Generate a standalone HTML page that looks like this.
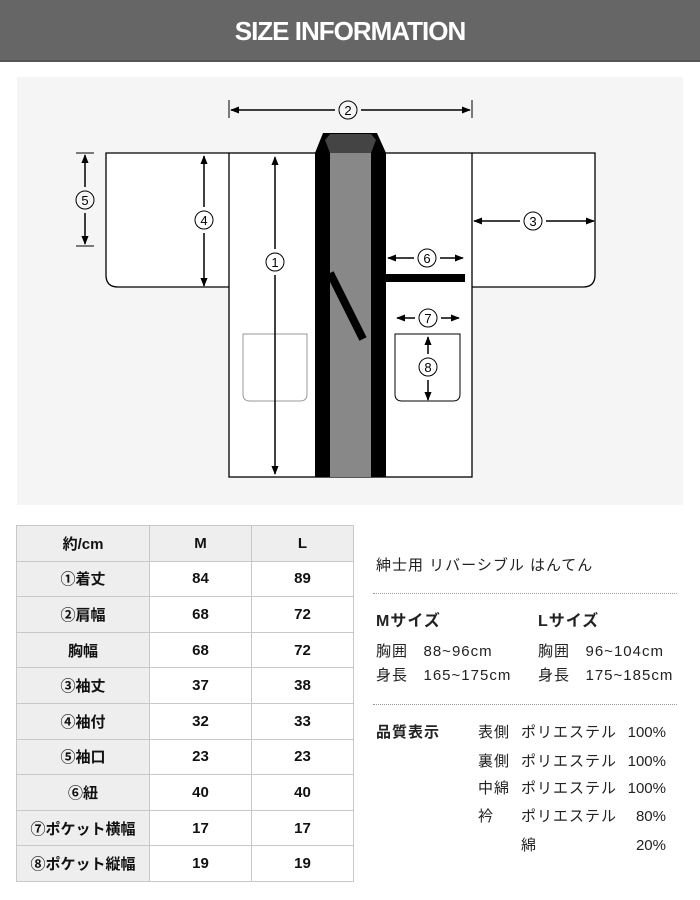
<!DOCTYPE html>
<html><head><meta charset="utf-8"><style>
body{margin:0;width:700px;height:900px;background:#fff;position:relative;font-family:"Liberation Sans","Noto Sans CJK JP",sans-serif;overflow:hidden}
.hd{position:absolute;left:0;top:0;width:700px;height:60px;background:#666;border-bottom:2px solid #555;color:#fff;font-weight:bold;font-size:26px;text-align:center;line-height:62px;letter-spacing:-1px}
.t{position:absolute;font-size:15px;line-height:20px;color:#222;white-space:nowrap;letter-spacing:1px}
table{position:absolute;left:16px;top:525px;border-collapse:collapse}
td{border:1px solid #c8c8c8;height:34.6px;padding:0;text-align:center;font-size:15px;color:#111;font-weight:bold}
td.g{background:#eeeeee}
.dot{position:absolute;left:373px;width:304px;border-top:1px dotted #999}
.p{letter-spacing:0;width:46px;text-align:right}
</style></head><body>
<div class="hd">SIZE INFORMATION</div>
<svg style="position:absolute;left:0;top:0" width="700" height="510" font-family="Liberation Sans" font-size="13">
<defs><marker id="a" viewBox="0 0 10 10" refX="9" refY="5" markerWidth="6" markerHeight="6" orient="auto-start-reverse"><path d="M0,1 L10,5 L0,9z" fill="#000"/></marker></defs>
<rect x="17" y="77" width="666" height="428" fill="#f5f5f5"/>
<path d="M229,153 H106 V275 Q106,287 118,287 H229" fill="#fff" stroke="#000" stroke-width="1.3"/>
<path d="M472,153 H595 V275 Q595,287 583,287 H472" fill="#fff" stroke="#000" stroke-width="1.3"/>
<rect x="229" y="153" width="243" height="324" fill="#fff" stroke="#000" stroke-width="1.3"/>
<rect x="330" y="153" width="41" height="324" fill="#888"/>
<rect x="315" y="153" width="15" height="324" fill="#000"/>
<rect x="371" y="153" width="15" height="324" fill="#000"/>
<polygon points="315,153 323,133 377,133 386,153" fill="#000"/>
<polygon points="330,153 325,140 330,134 371,134 376,140 371,153" fill="#444"/>
<line x1="330" y1="273" x2="363" y2="339" stroke="#000" stroke-width="8"/>
<rect x="386" y="274" width="79" height="8" fill="#000"/>
<path d="M243,334 V394 Q243,401 250,401 H300 Q307,401 307,394 V334 Z" fill="none" stroke="#999"/>
<path d="M395,334 V394 Q395,401 402,401 H453 Q460,401 460,394 V334 Z" fill="none" stroke="#000"/>
<g stroke="#000" stroke-width="1.5">
<line x1="229" y1="100" x2="229" y2="118" stroke-width="1"/><line x1="472" y1="100" x2="472" y2="118" stroke-width="1"/>
<line x1="231" y1="110" x2="335" y2="110" marker-start="url(#a)"/><line x1="361" y1="110" x2="470" y2="110" marker-end="url(#a)"/>
<line x1="275" y1="157" x2="275" y2="249" marker-start="url(#a)"/><line x1="275" y1="275" x2="275" y2="474" marker-end="url(#a)"/>
<line x1="204" y1="156" x2="204" y2="207" marker-start="url(#a)"/><line x1="204" y1="233" x2="204" y2="286" marker-end="url(#a)"/>
<line x1="76" y1="153" x2="94" y2="153" stroke-width="1"/><line x1="76" y1="246" x2="94" y2="246" stroke-width="1"/>
<line x1="85" y1="155" x2="85" y2="187" marker-start="url(#a)"/><line x1="85" y1="213" x2="85" y2="244" marker-end="url(#a)"/>
<line x1="474" y1="221" x2="520" y2="221" marker-start="url(#a)"/><line x1="546" y1="221" x2="594" y2="221" marker-end="url(#a)"/>
<line x1="388" y1="258" x2="414" y2="258" marker-start="url(#a)"/><line x1="440" y1="258" x2="463" y2="258" marker-end="url(#a)"/>
<line x1="397" y1="318" x2="415" y2="318" marker-start="url(#a)"/><line x1="441" y1="318" x2="459" y2="318" marker-end="url(#a)"/>
<line x1="428" y1="337" x2="428" y2="354" marker-start="url(#a)"/><line x1="428" y1="380" x2="428" y2="400" marker-end="url(#a)"/>
</g>
<g fill="#f5f5f5" stroke="#000" stroke-width="1"><circle cx="348" cy="110" r="9"/><circle cx="275" cy="262" r="9" fill="#fff"/><circle cx="204" cy="220" r="9" fill="#fff"/><circle cx="85" cy="200" r="9"/><circle cx="533" cy="221" r="9" fill="#fff"/><circle cx="427" cy="258" r="9" fill="#fff"/><circle cx="428" cy="318" r="9" fill="#fff"/><circle cx="428" cy="367" r="9" fill="#fff"/></g>
<g text-anchor="middle" fill="#000"><text x="348" y="115">2</text><text x="275" y="267">1</text><text x="204" y="225">4</text><text x="85" y="205">5</text><text x="533" y="226">3</text><text x="427" y="263">6</text><text x="428" y="323">7</text><text x="428" y="372">8</text></g>
</svg>
<table>
<tr><td class="g" style="width:132px">約/cm</td><td class="g" style="width:101px">M</td><td class="g" style="width:101px">L</td></tr>
<tr><td class="g">①着丈</td><td>84</td><td>89</td></tr>
<tr><td class="g">②肩幅</td><td>68</td><td>72</td></tr>
<tr><td class="g">胸幅</td><td>68</td><td>72</td></tr>
<tr><td class="g">③袖丈</td><td>37</td><td>38</td></tr>
<tr><td class="g">④袖付</td><td>32</td><td>33</td></tr>
<tr><td class="g">⑤袖口</td><td>23</td><td>23</td></tr>
<tr><td class="g">⑥紐</td><td>40</td><td>40</td></tr>
<tr><td class="g">⑦ポケット横幅</td><td>17</td><td>17</td></tr>
<tr><td class="g">⑧ポケット縦幅</td><td>19</td><td>19</td></tr>
</table>
<div class="t" style="left:376px;top:556px">紳士用 リバーシブル はんてん</div>
<div class="dot" style="top:593px"></div>
<div class="t" style="left:376px;top:612px;font-size:16px;font-weight:bold">Mサイズ</div>
<div class="t" style="left:538px;top:612px;font-size:16px;font-weight:bold">Lサイズ</div>
<div class="t" style="left:376px;top:642px">胸囲&nbsp;&nbsp; 88~96cm</div>
<div class="t" style="left:538px;top:642px">胸囲&nbsp;&nbsp; 96~104cm</div>
<div class="t" style="left:376px;top:666px">身長&nbsp;&nbsp; 165~175cm</div>
<div class="t" style="left:538px;top:666px">身長&nbsp;&nbsp; 175~185cm</div>
<div class="dot" style="top:704px"></div>
<div class="t" style="left:376px;top:723px;font-weight:bold">品質表示</div>
<div class="t" style="left:478px;top:723px">表側</div><div class="t" style="left:521px;top:723px">ポリエステル</div><div class="t p" style="left:620px;top:723px">100%</div>
<div class="t" style="left:478px;top:752px">裏側</div><div class="t" style="left:521px;top:752px">ポリエステル</div><div class="t p" style="left:620px;top:752px">100%</div>
<div class="t" style="left:478px;top:779px">中綿</div><div class="t" style="left:521px;top:779px">ポリエステル</div><div class="t p" style="left:620px;top:779px">100%</div>
<div class="t" style="left:478px;top:807px">衿</div><div class="t" style="left:521px;top:807px">ポリエステル</div><div class="t p" style="left:620px;top:807px">80%</div>
<div class="t" style="left:521px;top:836px">綿</div><div class="t p" style="left:620px;top:836px">20%</div>
</body></html>
